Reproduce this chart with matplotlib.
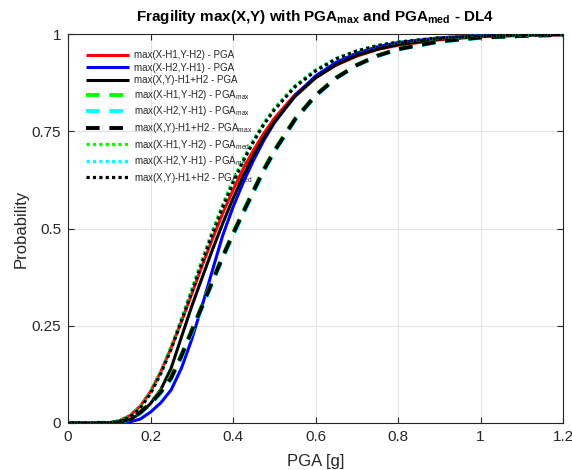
import matplotlib
matplotlib.use("Agg")
import matplotlib.pyplot as plt

plt.rcParams['font.family'] = ['Liberation Sans', 'DejaVu Sans']
plt.rcParams['mathtext.fontset'] = 'custom'
plt.rcParams['mathtext.rm'] = 'Liberation Sans'
plt.rcParams['mathtext.it'] = 'Liberation Sans:italic'
plt.rcParams['mathtext.bf'] = 'Liberation Sans:bold'

# PGA values [g] at which the curves were read
pga = [0, 0.05, 0.1, 0.125, 0.15, 0.175, 0.2, 0.225, 0.25, 0.275, 0.3, 0.325,
       0.35, 0.375, 0.4, 0.425, 0.45, 0.475, 0.5, 0.55, 0.6, 0.65, 0.7, 0.75,
       0.8, 0.9, 1.0, 1.1, 1.2]

# solid: PGA
red_pga = [0, 0, 0.001, 0.006, 0.019, 0.043, 0.081, 0.132, 0.193, 0.261, 0.332, 0.404,
           0.473, 0.539, 0.599, 0.654, 0.702, 0.745, 0.783, 0.844, 0.888, 0.920, 0.943, 0.960,
           0.971, 0.985, 0.993, 0.996, 0.998]
blue_pga = [0, 0, 0, 0.001, 0.003, 0.010, 0.028, 0.052, 0.085, 0.141, 0.215, 0.301,
            0.392, 0.482, 0.555, 0.619, 0.676, 0.727, 0.771, 0.841, 0.892, 0.927, 0.951, 0.967,
            0.978, 0.990, 0.996, 0.998, 0.999]
black_pga = [0, 0, 0.0005, 0.003, 0.009, 0.024, 0.050, 0.086, 0.141, 0.221, 0.300, 0.373,
             0.445, 0.513, 0.577, 0.636, 0.688, 0.734, 0.774, 0.839, 0.887, 0.921, 0.945, 0.961,
             0.973, 0.987, 0.994, 0.997, 0.998]

# dashed: PGA_max
green_max = [0, 0, 0.0005, 0.003, 0.011, 0.028, 0.052, 0.082, 0.119, 0.176, 0.240, 0.303,
             0.367, 0.430, 0.489, 0.545, 0.600, 0.654, 0.701, 0.782, 0.843, 0.888, 0.921, 0.945,
             0.961, 0.981, 0.991, 0.995, 0.998]
cyan_max = [0, 0, 0.0004, 0.002, 0.009, 0.025, 0.048, 0.077, 0.113, 0.169, 0.233, 0.296,
            0.360, 0.423, 0.482, 0.538, 0.593, 0.647, 0.696, 0.778, 0.840, 0.886, 0.919, 0.943,
            0.960, 0.980, 0.990, 0.995, 0.997]
black_max = [0, 0, 0.0004, 0.0025, 0.010, 0.027, 0.050, 0.080, 0.116, 0.173, 0.237, 0.300,
             0.364, 0.427, 0.486, 0.542, 0.597, 0.651, 0.699, 0.780, 0.842, 0.887, 0.920, 0.944,
             0.961, 0.981, 0.991, 0.995, 0.998]

# dotted: PGA_med
green_med = [0, 0, 0.001, 0.006, 0.018, 0.041, 0.080, 0.133, 0.197, 0.269, 0.344, 0.420,
             0.494, 0.562, 0.625, 0.680, 0.729, 0.772, 0.809, 0.867, 0.908, 0.937, 0.957, 0.970,
             0.979, 0.990, 0.995, 0.998, 0.999]
cyan_med = [0, 0, 0.0008, 0.0047, 0.016, 0.039, 0.077, 0.129, 0.192, 0.264, 0.340, 0.415,
            0.489, 0.557, 0.620, 0.676, 0.726, 0.769, 0.806, 0.865, 0.906, 0.936, 0.956, 0.970,
            0.979, 0.990, 0.995, 0.998, 0.999]
black_med = [0, 0, 0.0008, 0.0045, 0.0155, 0.038, 0.076, 0.127, 0.190, 0.262, 0.337, 0.412,
             0.486, 0.555, 0.618, 0.674, 0.724, 0.768, 0.805, 0.864, 0.905, 0.936, 0.956, 0.970,
             0.979, 0.990, 0.995, 0.998, 0.999]

labels = [
    'max(X-H1,Y-H2) - PGA',
    'max(X-H2,Y-H1) - PGA',
    'max(X,Y)-H1+H2 - PGA',
    r'max(X-H1,Y-H2) - PGA$_{\mathrm{max}}$',
    r'max(X-H2,Y-H1) - PGA$_{\mathrm{max}}$',
    r'max(X,Y)-H1+H2 - PGA$_{\mathrm{max}}$',
    r'max(X-H1,Y-H2) - PGA$_{\mathrm{med}}$',
    r'max(X-H2,Y-H1) - PGA$_{\mathrm{med}}$',
    r'max(X,Y)-H1+H2 - PGA$_{\mathrm{med}}$',
]

xticks = [0, 0.2, 0.4, 0.6, 0.8, 1.0, 1.2]
xticklabels = ['0', '0.2', '0.4', '0.6', '0.8', '1', '1.2']
yticks = [0, 0.25, 0.5, 0.75, 1.0]
yticklabels = ['0', '0.25', '0.5', '0.75', '1']

fig = plt.figure(figsize=(5.72, 4.70), dpi=100)
ax = fig.add_axes([68/572, 47/470, (563-68)/572, (423-34)/470])

lw_s = 2.2
lw_d = 2.8
lw_o = 2.3
series = [
    (red_pga, '#ff0000', '-', lw_s),
    (blue_pga, '#0000ff', '-', lw_s),
    (black_pga, '#000000', '-', lw_s),
    (green_max, '#00ff00', (0, (3.5, 2.5)), lw_d),
    (cyan_max, '#00ffff', (0, (3.5, 2.5)), lw_d),
    (black_max, '#000000', (0, (3.5, 2.5)), lw_d),
    (green_med, '#00ff00', (0, (1, 1)), lw_o),
    (cyan_med, '#00ffff', (0, (1, 1)), lw_o),
    (black_med, '#000000', (0, (1, 1)), lw_o),
]
for (vals, c, ls, lw), lab in zip(series, labels):
    ax.plot(pga, vals, color=c, linestyle=ls, linewidth=lw, label=lab,
            dash_capstyle='butt', solid_capstyle='butt', zorder=3)

ax.set_xlim(0, 1.2)
ax.set_ylim(0, 1)
ax.set_xticks(xticks)
ax.set_xticklabels(xticklabels)
ax.set_yticks(yticks)
ax.set_yticklabels(yticklabels)
ax.grid(True, color='#e3e3e3', linewidth=0.8)
ax.set_axisbelow(True)
ax.tick_params(direction='in', top=True, right=True, length=4, width=0.8,
               colors='#262626', labelsize=11, pad=5)
for s in ax.spines.values():
    s.set_color('#262626')
    s.set_linewidth(0.8)

ax.set_xlabel('PGA [g]', fontsize=12, color='#262626', labelpad=7)
ax.set_ylabel('Probability', fontsize=12, color='#262626', labelpad=2)
ax.set_title(r'Fragility max(X,Y) with PGA$_{\mathbf{max}}$ and PGA$_{\mathbf{med}}$ - DL4',
             fontsize=11, fontweight='bold', pad=9)

leg = ax.legend(loc='upper left', bbox_to_anchor=(0.028, 0.968), fontsize=7,
                frameon=False, handlelength=4.5, handletextpad=0.5,
                labelspacing=0.26, borderaxespad=0.0)
leg.set_zorder(1)
for t in leg.get_texts():
    t.set_color('#262626')

fig.savefig('out.png', dpi=100)
